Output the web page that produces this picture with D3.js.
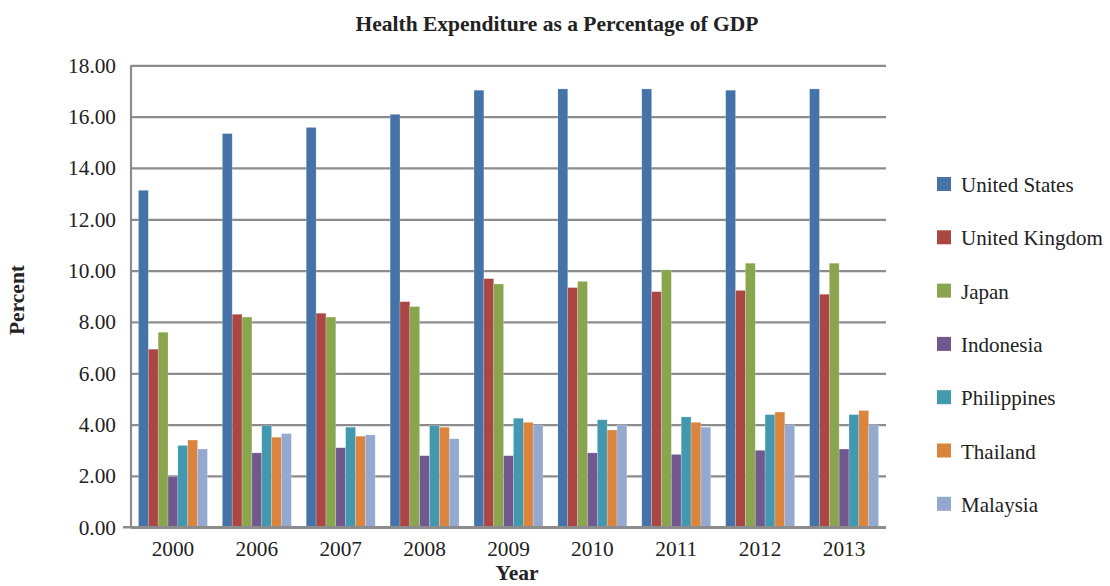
<!DOCTYPE html>
<html><head><meta charset="utf-8">
<script src="https://cdn.jsdelivr.net/npm/d3@7"></script>
<style>body{margin:0;background:#fff}svg{display:block}</style>
</head><body><svg id="c" width="1110" height="586"></svg>
<script>
const years = ["2000","2006","2007","2008","2009","2010","2011","2012","2013"];
const countries = ["United States","United Kingdom","Japan","Indonesia","Philippines","Thailand","Malaysia"];
const colors = ["#4572A7","#AA4643","#89A54E","#71588F","#4198AF","#DB843D","#93A9CF"];
const unitedStates   = [13.13,15.34,15.58,16.09,17.03,17.08,17.08,17.03,17.08];
const unitedKingdom  = [6.94,8.30,8.34,8.79,9.69,9.34,9.18,9.23,9.08];
const japan          = [7.60,8.19,8.19,8.60,9.48,9.58,10.03,10.29,10.29];
const indonesia      = [1.97,2.90,3.10,2.79,2.79,2.90,2.84,3.00,3.05];
const philippines    = [3.19,3.96,3.90,3.96,4.25,4.19,4.30,4.39,4.39];
const thailand       = [3.40,3.51,3.55,3.90,4.09,3.79,4.09,4.49,4.55];
const malaysia       = [3.05,3.65,3.60,3.45,3.98,3.99,3.90,3.99,3.99];
const yTicks = [0,2,4,6,8,10,12,14,16,18];
const seriesValues = [unitedStates,unitedKingdom,japan,indonesia,philippines,thailand,malaysia];

const FF = '"Liberation Serif","Times New Roman",serif';
const svg = d3.select("#c");
const L = 131, R = 886, T = 65.3, B = 527.3;
const x0 = d3.scaleBand().domain(years).range([L,R]).paddingInner(0.178).paddingOuter(0.089);
const x1 = d3.scaleBand().domain(countries).range([0,x0.bandwidth()]);
const y = d3.scaleLinear().domain([0,18]).range([B,T]);
const color = d3.scaleOrdinal().domain(countries).range(colors);
const grid = "#8c8c8c";

// gridlines + ticks
const ya = svg.append("g").attr("transform",`translate(${L},0)`)
  .call(d3.axisLeft(y).tickValues(yTicks).tickSize(8).tickFormat(d3.format(".2f")));
ya.select(".domain").remove();
ya.selectAll(".tick line").attr("stroke",grid).attr("stroke-width",2.2).attr("x2",R-L);
ya.selectAll(".tick text").attr("x",-15).style("font-family",FF).style("font-size","21.3px").attr("fill","#222");

// bars
svg.append("g").selectAll("g").data(years).join("g")
  .attr("transform",d=>`translate(${x0(d)},0)`)
  .selectAll("rect").data((d,i)=>countries.map((c,j)=>({c,v:seriesValues[j][i]}))).join("rect")
  .attr("x",d=>x1(d.c)).attr("width",x1.bandwidth())
  .attr("y",d=>y(d.v)).attr("height",d=>B-y(d.v))
  .attr("fill",d=>color(d.c)).attr("stroke","rgba(255,255,255,0.35)").attr("stroke-width",0.6);

// axes lines
svg.append("line").attr("x1",L).attr("x2",L).attr("y1",T).attr("y2",B).attr("stroke",grid).attr("stroke-width",2.2);
const xa = svg.append("g").attr("transform",`translate(0,${B})`).call(d3.axisBottom(x0).tickSize(0).tickPadding(14));
xa.select(".domain").attr("stroke",grid).attr("stroke-width",2.6).attr("d",`M${L-8},0H${R}`);
xa.selectAll(".tick text").style("font-family",FF).style("font-size","21.3px").attr("fill","#222");

// titles
function title(sel){return sel.style("font-family",FF).style("font-size","21.5px").style("font-weight","bold").attr("fill","#222").attr("text-anchor","middle");}
title(svg.append("text").attr("x",557).attr("y",31)).text("Health Expenditure as a Percentage of GDP");
title(svg.append("text").attr("x",517).attr("y",580)).text("Year");
title(svg.append("text").attr("transform","translate(24,300) rotate(-90)")).text("Percent");

// legend
const lg = svg.append("g").selectAll("g").data(countries).join("g")
  .attr("transform",(d,i)=>`translate(937,${177+i*53.3})`);
lg.append("rect").attr("width",14).attr("height",14).attr("fill",d=>color(d));
lg.append("text").attr("x",24).attr("y",15).style("font-family",FF).style("font-size","21px").attr("fill","#222").text(d=>d);
</script></body></html>
